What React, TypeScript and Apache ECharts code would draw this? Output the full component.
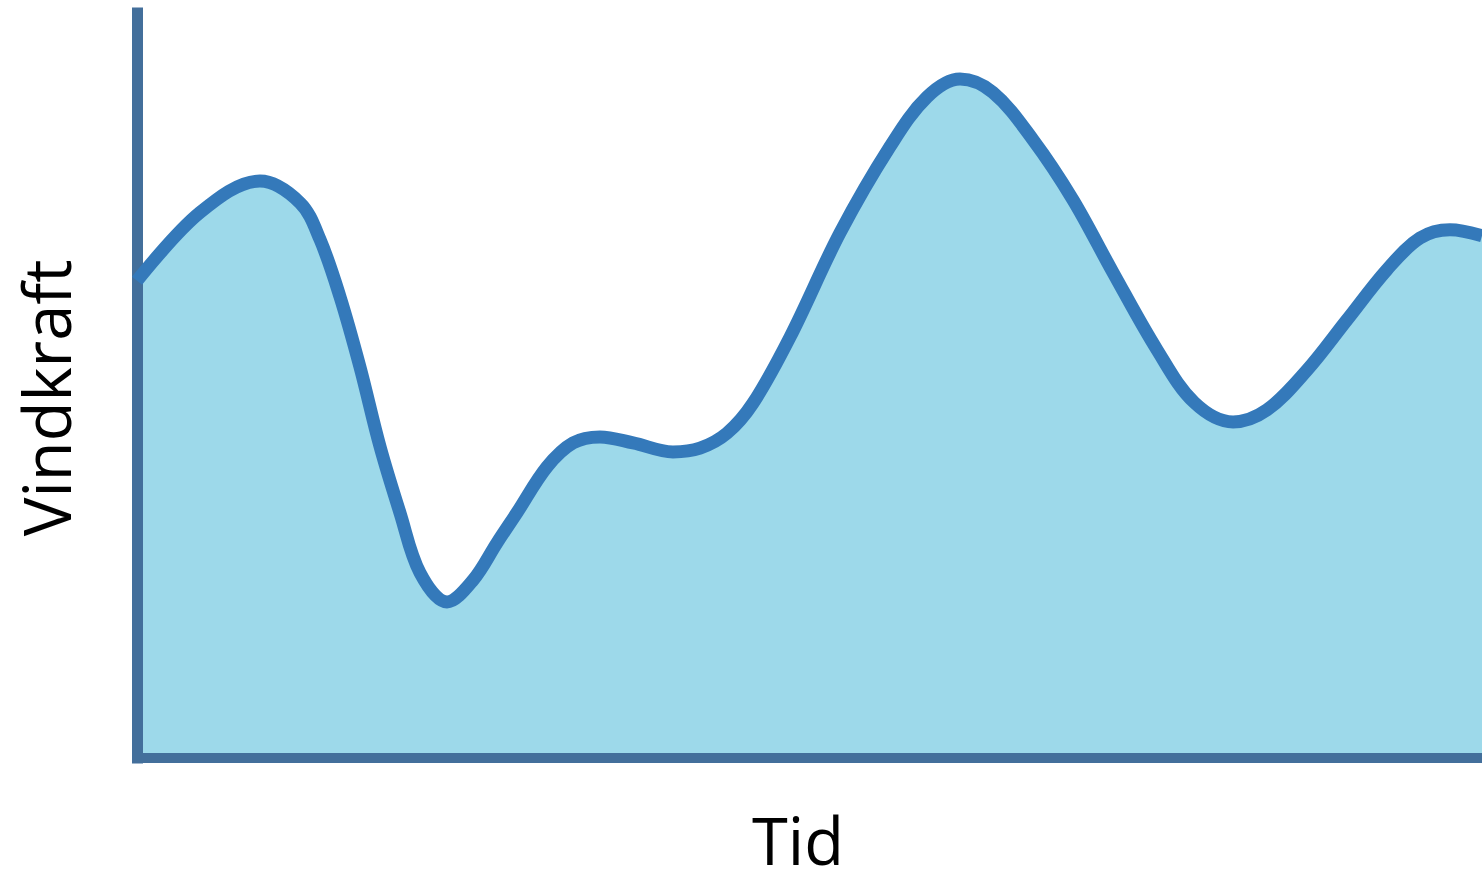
import React, { useEffect, useRef } from "react";
import * as echarts from "echarts";

const timePoints = [0, 4.68, 9.14, 12.12, 13.61, 15.09, 16.58, 18.07, 19.55, 21.04, 23.05, 24.98, 26.77, 28.25, 30.48, 32.42, 34.42, 36.88, 39.85, 41.86, 43.87, 45.8, 48.55, 52.27, 55.99, 58.74, 61.19, 63.64, 66.62, 69.59, 72.57, 75.84, 78.6, 81.49, 84.01, 86.99, 89.96, 92.94, 95.39, 97.62, 100];
const windPower = [63.6, 72.7, 76.9, 74.0, 69.1, 61.5, 52.1, 41.5, 32.7, 24.7, 20.8, 23.7, 28.7, 32.7, 38.8, 42.0, 42.8, 42.0, 40.8, 41.3, 43.3, 47.3, 56.1, 70.0, 81.5, 88.1, 90.5, 88.7, 82.4, 74.4, 64.7, 54.4, 47.4, 44.8, 46.4, 51.7, 58.4, 65.1, 69.3, 70.4, 69.6];
const yLabel = "Vindkraft";
const xLabel = "Tid";

export default function App() {
  const ref = useRef<HTMLDivElement>(null);
  useEffect(() => {
    if (!ref.current) return;
    const chart = echarts.init(ref.current, undefined, { renderer: "svg" });
    const axisColor = "#436f9b";
    const data = timePoints.map((t, i) => [t, windPower[i]]);
    chart.setOption({
      animation: false,
      grid: { left: 137, right: 0, top: 13, bottom: 120 },
      xAxis: {
        type: "value",
        min: 0,
        max: 100,
        z: 3,
        axisLine: { show: true, lineStyle: { color: axisColor, width: 10, cap: "square" } },
        axisTick: { show: false },
        axisLabel: { show: false },
        splitLine: { show: false },
      },
      yAxis: {
        type: "value",
        min: 0,
        max: 99.3,
        z: 3,
        axisLine: { show: true, lineStyle: { color: axisColor, width: 11, cap: "square" } },
        axisTick: { show: false },
        axisLabel: { show: false },
        splitLine: { show: false },
      },
      series: [
        {
          name: "area",
          type: "line",
          data,
          smooth: 0.35,
          showSymbol: false,
          lineStyle: { width: 0, opacity: 0 },
          areaStyle: { color: "#9dd9ea", opacity: 1 },
          z: 1,
          silent: true,
        },
        {
          name: "Vindkraft",
          type: "line",
          data,
          smooth: 0.35,
          showSymbol: false,
          lineStyle: { color: "#3479ba", width: 13 },
          z: 4,
        },
      ],
      graphic: [
        {
          type: "text",
          x: 46,
          y: 398,
          rotation: Math.PI / 2,
          style: {
            text: yLabel,
            font: '65px "Open Sans"',
            lineHeight: 56,
            fill: "#000",
            align: "center",
            verticalAlign: "middle",
          },
        },
        {
          type: "text",
          x: 798,
          y: 840,
          style: {
            text: xLabel,
            font: '65px "Open Sans"',
            lineHeight: 56,
            fill: "#000",
            align: "center",
            verticalAlign: "middle",
          },
        },
      ],
    });
    return () => chart.dispose();
  }, []);
  return (
    <div
      ref={ref}
      style={{ position: "fixed", left: 0, top: 0, width: 1482, height: 878, background: "#fff" }}
    />
  );
}
